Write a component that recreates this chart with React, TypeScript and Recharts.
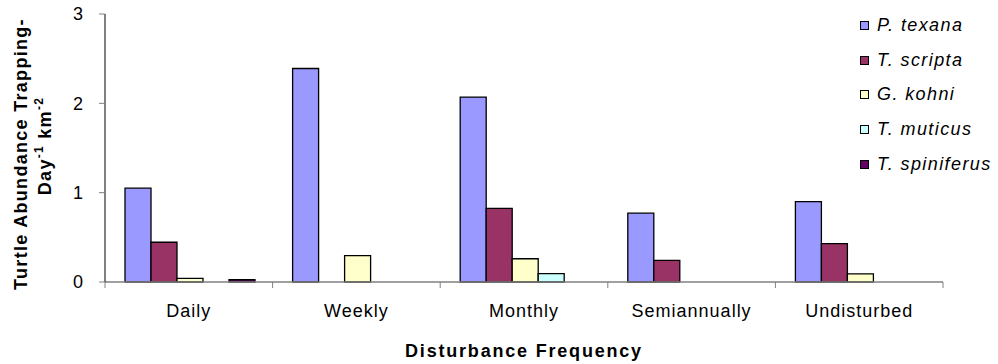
import React from 'react';
import { BarChart, Bar, XAxis, YAxis, Legend } from 'recharts';

// Trapping-day abundance per km², by disturbance frequency
const categories = ['Daily', 'Weekly', 'Monthly', 'Semiannually', 'Undisturbed'];
const pTexana = [1.05, 2.39, 2.07, 0.77, 0.9];
const tScripta = [0.445, 0, 0.825, 0.243, 0.43];
const gKohni = [0.04, 0.295, 0.26, 0, 0.09];
const tMuticus = [0, 0, 0.093, 0, 0];
const tSpiniferus = [0.025, 0, 0, 0, 0];
const yTicks = [0, 1, 2, 3];

const seriesNames = ['P. texana', 'T. scripta', 'G. kohni', 'T. muticus', 'T. spiniferus'];
const seriesKeys = ['pTexana', 'tScripta', 'gKohni', 'tMuticus', 'tSpiniferus'];
const seriesColors = ['#9999FF', '#993366', '#FFFFCC', '#CCFFFF', '#660066'];

const data = categories.map((name, i) => ({
  name,
  pTexana: pTexana[i],
  tScripta: tScripta[i],
  gKohni: gKohni[i],
  tMuticus: tMuticus[i],
  tSpiniferus: tSpiniferus[i],
}));

const FONT = '"Liberation Sans", Arial, Helvetica, sans-serif';

function CategoryTick(props: any) {
  const { x, y, payload, index } = props;
  const half = payload && typeof payload.offset === 'number' ? payload.offset : 0;
  const last = index === categories.length - 1;
  return (
    <g>
      <line x1={x - half} x2={x - half} y1={y} y2={y + 6} stroke="#808080" />
      {last && <line x1={x + half} x2={x + half} y1={y} y2={y + 6} stroke="#808080" />}
      <text x={x} y={y + 35} textAnchor="middle" fontSize={18} letterSpacing={1} fontFamily={FONT} fill="#000">
        {payload.value}
      </text>
    </g>
  );
}

function YTitle(props: any) {
  const { x, y, height } = props.viewBox;
  const cy = y + height / 2;
  const l1x = x + 27;
  const l1y = cy + 6;
  const l2x = x + 51;
  const l2y = cy - 2;
  return (
    <g fontFamily={FONT} fontWeight="bold" fontSize={18} fill="#000">
      <text x={l1x} y={l1y} textAnchor="middle" letterSpacing={1.3} transform={`rotate(-90 ${l1x} ${l1y})`}>
        Turtle Abundance Trapping-
      </text>
      <text x={l2x} y={l2y} textAnchor="middle" letterSpacing={1.3} transform={`rotate(-90 ${l2x} ${l2y})`}>
        Day
        <tspan dy={-8} fontSize={12}>-1</tspan>
        <tspan dy={8}> km</tspan>
        <tspan dy={-8} fontSize={12}>-2</tspan>
      </text>
    </g>
  );
}

function XTitle(props: any) {
  const { x, y, width } = props.viewBox;
  return (
    <text x={x + width / 2} y={y + 75} textAnchor="middle" fontFamily={FONT} fontWeight="bold" fontSize={18} letterSpacing={1.8} fill="#000">
      Disturbance Frequency
    </text>
  );
}

function LegendBox(props: any) {
  const items = [...(props.payload || [])].sort(
    (a: any, b: any) => seriesNames.indexOf(a.value) - seriesNames.indexOf(b.value)
  );
  return (
    <div style={{ fontFamily: FONT, fontStyle: 'italic', fontSize: 18, letterSpacing: 1.4, color: '#000' }}>
      {items.map((it: any) => (
        <div key={it.value} style={{ display: 'flex', alignItems: 'center', height: 34.7 }}>
          <span
            style={{
              display: 'inline-block',
              boxSizing: 'border-box',
              width: 9,
              height: 9,
              background: it.color,
              border: '1px solid #000',
              marginLeft: 4,
              marginRight: 8,
            }}
          />
          <span style={{ whiteSpace: 'nowrap' }}>{it.value}</span>
        </div>
      ))}
    </div>
  );
}

export default function App() {
  return (
    <div style={{ position: 'absolute', left: 0, top: 0, background: '#fff' }}>
      <BarChart
        width={998}
        height={364}
        data={data}
        margin={{ top: 14, right: 55, bottom: 52, left: 0 }}
        barCategoryGap={20}
        barGap={0}
      >
        <XAxis
          dataKey="name"
          height={30}
          interval={0}
          tickSize={0}
          tickMargin={0}
          tickLine={false}
          axisLine={{ stroke: '#808080', strokeWidth: 1.5 }}
          tick={<CategoryTick />}
          label={{ content: <XTitle /> }}
        />
        <YAxis
          width={105}
          domain={[0, 3]}
          ticks={yTicks}
          interval={0}
          tickSize={6}
          tickMargin={16}
          axisLine={{ stroke: '#000' }}
          tickLine={{ stroke: '#808080' }}
          tick={{ fontSize: 18, fill: '#000', fontFamily: FONT }}
          label={{ content: <YTitle /> }}
        />
        <Legend
          layout="vertical"
          align="center"
          verticalAlign="middle"
          itemSorter={null as any}
          wrapperStyle={{ position: 'absolute', left: 856, top: 8, width: 142, height: 180 }}
          content={<LegendBox />}
        />
        {seriesKeys.map((k, i) => (
          <Bar
            key={k}
            dataKey={k}
            name={seriesNames[i]}
            fill={seriesColors[i]}
            stroke="#000"
            strokeWidth={1.3}
            isAnimationActive={false}
          />
        ))}
      </BarChart>
    </div>
  );
}
